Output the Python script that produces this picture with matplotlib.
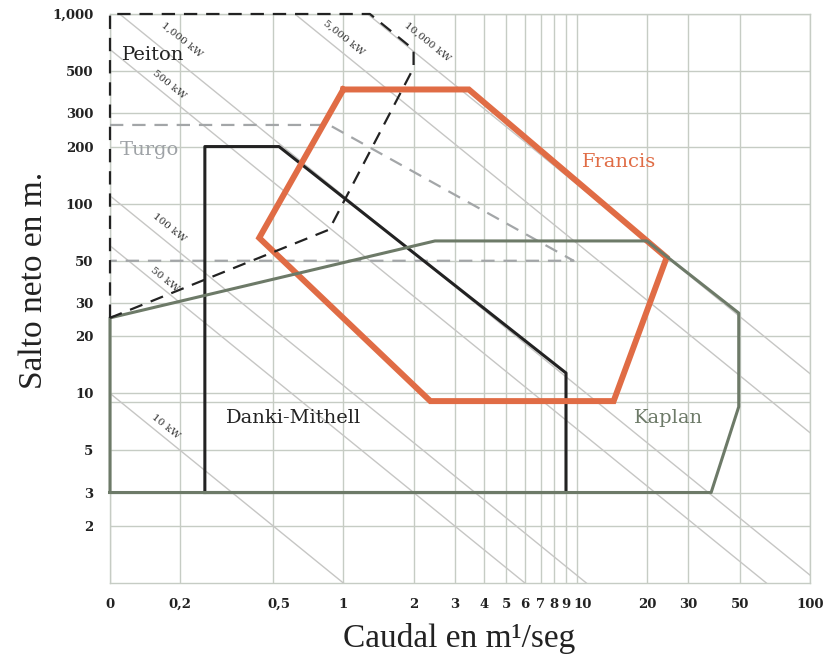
import matplotlib
matplotlib.use("Agg")
import matplotlib.pyplot as plt
from matplotlib.transforms import ScaledTranslation

# ---------------- data ----------------
x_ticks = [0.1, 0.2, 0.5, 1, 2, 3, 4, 5, 6, 7, 8, 9, 10, 20, 30, 50, 100]
x_ticklabels = ['0', '0,2', '0,5', '1', '2', '3', '4', '5', '6', '7', '8', '9', '10', '20', '30', '50', '100']
y_ticks = [2, 3, 5, 10, 20, 30, 50, 100, 200, 300, 500, 1000]
y_ticklabels = ['2', '3', '5', '10', '20', '30', '50', '100', '200', '300', '500', '1,000']
y_extra_grid = [9]

# constant power lines: label and Q*H product
power_labels = ['10 kW', '50 kW', '100 kW', '500 kW', '1,000 kW', '5,000 kW', '10,000 kW']
power_qh = [1.0, 6.0, 11.0, 65.0, 110.0, 620.0, 1270.0]
power_label_q = [0.173, 0.172, 0.18, 0.18, 0.204, 1.0, 2.3]
power_label_h = [6.65, 39.6, 75, 423, 730, 747, 711]

peiton_q = [0.1, 0.1, 1.3, 2.0, 2.0, 0.87, 0.1]
peiton_h = [25, 1000, 1000, 650, 520, 73, 25]

turgo_q = [0.1, 0.87, 9.7, 0.1]
turgo_h = [260, 260, 50, 50]

francis_q = [1.0, 3.45, 24.3, 14.4, 2.36, 0.436, 1.0]
francis_h = [400, 400, 52, 9.1, 9.1, 66, 400]

danki_q = [0.255, 0.255, 0.53, 9.0, 9.0, 0.255]
danki_h = [3, 200, 200, 12.8, 3, 3]

kaplan_q = [0.1, 0.1, 2.47, 20, 49.5, 49.5, 37.7, 0.1]
kaplan_h = [3, 25, 63.6, 63.6, 26.5, 8.5, 3, 3]

shape_names = ['Peiton', 'Turgo', 'Francis', 'Danki-Mithell', 'Kaplan']
shape_label_q = [0.153, 0.148, 15.2, 0.61, 24.7]
shape_label_h = [608, 192, 166, 7.4, 7.4]

# ---------------- style ----------------
grid_c = '#c6ccc4'
diag_c = '#c6c6c4'
orange = '#e06c45'
kgreen = '#6d7a68'
dark = '#222222'
tgray = '#a3a6a8'
shape_colors = [dark, '#9ea2a6', orange, dark, kgreen]

fig = plt.figure(figsize=(8.38, 6.58), dpi=100)
ax = fig.add_axes([110/838, 1 - 583/658, 700/838, 569/658])
ax.set_xscale('log')
ax.set_yscale('log')
ax.set_xlim(0.1, 100)
ax.set_ylim(1, 1000)

# grid
for xv in x_ticks:
    ax.axvline(xv, color=grid_c, lw=1.0, zorder=1)
for yv in y_ticks + y_extra_grid:
    ax.axhline(yv, color=grid_c, lw=1.0, zorder=1)

for s in ax.spines.values():
    s.set_color(grid_c)
    s.set_linewidth(1.0)

# constant power lines
for k, lab, lq, lh in zip(power_qh, power_labels, power_label_q, power_label_h):
    ax.plot([0.01, 1000], [k / 0.01, k / 1000], color=diag_c, lw=1.0, zorder=1.5)
    ax.text(lq, lh, lab, rotation=-39, ha='center', va='center', fontsize=7.5,
            family='DejaVu Serif', color='#333333', zorder=2)

# shapes
ax.plot(turgo_q, turgo_h, color=tgray, lw=1.6, dashes=(6, 4), zorder=3, clip_on=False)
ax.plot(peiton_q, peiton_h, color=dark, lw=1.6, dashes=(6, 4), zorder=6, clip_on=False)
ax.plot(danki_q, danki_h, color=dark, lw=2.2, zorder=4, clip_on=False)
ax.plot(kaplan_q, kaplan_h, color=kgreen, lw=2.2, zorder=5, clip_on=False)
ax.plot(francis_q, francis_h, color=orange, lw=4.3, zorder=4.5, solid_joinstyle='miter', clip_on=False)

for name, q, h, c in zip(shape_names, shape_label_q, shape_label_h, shape_colors):
    ax.text(q, h, name, ha='center', va='center', fontsize=14, family='DejaVu Serif',
            color=c, zorder=7)

# ticks
ax.set_xticks(x_ticks)
ax.set_xticklabels(x_ticklabels)
ax.set_yticks(y_ticks)
ax.set_yticklabels(y_ticklabels)
ax.minorticks_off()
ax.tick_params(axis='both', length=0, labelsize=9.5, labelcolor='#222222')
ax.tick_params(axis='x', pad=11)
ax.tick_params(axis='y', pad=12)
for t in ax.get_xticklabels() + ax.get_yticklabels():
    t.set_family('DejaVu Serif')
    t.set_fontweight('bold')
for t in ax.get_xticklabels():
    if t.get_text() in ('0,5', '10'):
        t.set_transform(t.get_transform() + ScaledTranslation(6/100, 0, fig.dpi_scale_trans))

fig.text(459/838, 1 - 638/658, 'Caudal en m¹/seg', ha='center', va='center',
         fontsize=24, family='Liberation Serif', color='#222222')
fig.text(34/838, 1 - 280/658, 'Salto neto en m.', ha='center', va='center', rotation=90,
         fontsize=24, family='Liberation Serif', color='#222222')

fig.savefig('out.png', dpi=100, facecolor='white')
